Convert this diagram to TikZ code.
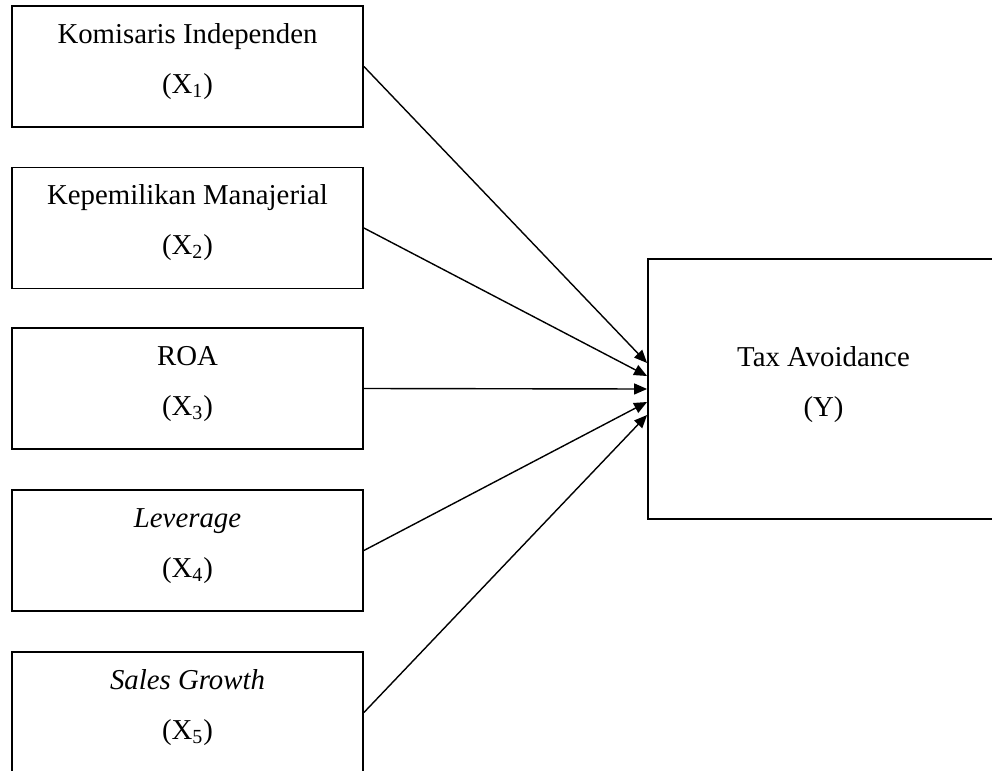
\documentclass[tikz,border=0pt]{standalone}
\usepackage{fontspec}
\setmainfont{Liberation Serif}
\usetikzlibrary{arrows.meta}
\tikzset{
  varbox/.style={draw, line width=0.9pt, rectangle, minimum width=175.5pt, minimum height=60.5pt, inner sep=0pt},
  ybox/.style={draw, line width=0.9pt, rectangle, minimum width=175.5pt, minimum height=130pt, inner sep=0pt},
  lbl/.style={anchor=base, inner sep=0pt, font=\fontsize{14.4}{17}\selectfont},
  link/.style={line width=0.7pt, -{Triangle[length=6.5pt,width=5.5pt]}}
}
\begin{document}
\begin{tikzpicture}[x=0.5pt,y=-0.5pt]
\clip (0,0) rectangle (992,771);

% independent variables
\node[varbox] (x1) at (187.5,66.5) {};
\node[lbl] (x1name) at (187.5,43) {Komisaris Independen};
\node[lbl] (x1sym) at (187.5,93) {(X\textsubscript{1})};

\node[varbox] (x2) at (187.5,228) {};
\node[lbl] (x2name) at (187.5,204.5) {Kepemilikan Manajerial};
\node[lbl] (x2sym) at (187.5,254.5) {(X\textsubscript{2})};

\node[varbox] (x3) at (187.5,388.5) {};
\node[lbl] (x3name) at (187.5,365) {ROA};
\node[lbl] (x3sym) at (187.5,415) {(X\textsubscript{3})};

\node[varbox] (x4) at (187.5,550.5) {};
\node[lbl] (x4name) at (187.5,527) {\textit{Leverage}};
\node[lbl] (x4sym) at (187.5,577) {(X\textsubscript{4})};

\node[varbox] (x5) at (187.5,712.5) {};
\node[lbl] (x5name) at (187.5,689) {\textit{Sales Growth}};
\node[lbl] (x5sym) at (187.5,739) {(X\textsubscript{5})};

% dependent variable
\node[ybox] (y) at (823.5,389) {};
\node[lbl] (yname) at (823.5,366) {Tax Avoidance};
\node[lbl] (ysym) at (823.5,416) {(Y)};

\draw[link] (x1.east) -- ([yshift=13pt]y.west);
\draw[link] (x2.east) -- ([yshift=6.5pt]y.west);
\draw[link] (x3.east) -- (y.west);
\draw[link] (x4.east) -- ([yshift=-6.5pt]y.west);
\draw[link] (x5.east) -- ([yshift=-13pt]y.west);
\end{tikzpicture}
\end{document}
